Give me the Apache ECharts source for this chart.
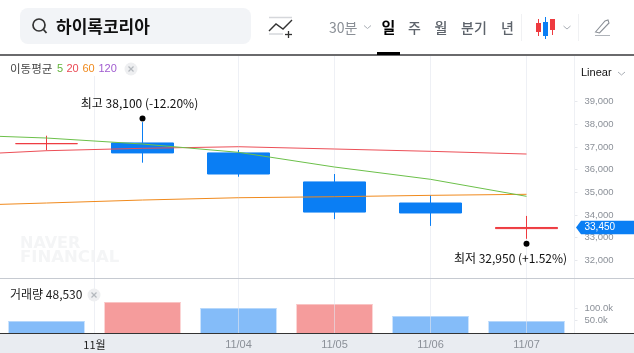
<!DOCTYPE html>
<html lang="ko">
<head>
<meta charset="utf-8" />
<title>하이록코리아</title>
<style>
html, body { margin: 0; padding: 0; background: #fff; }
#chart { width: 634px; height: 353px; }
</style>
</head>
<body>
<div id="chart"></div>
<script src="https://cdn.jsdelivr.net/npm/echarts@6/dist/echarts.min.js"></script>
<script>
// 첫 항목(10/30)은 화면 왼쪽 밖 - 이동평균선이 왼쪽 끝까지 이어지도록
var categories = ['10/30', '10/31', '11/01', '11/04', '11/05', '11/06', '11/07'];
// [시가, 종가, 저가, 고가]
var candles = [
	'-',
	[37150, 37150, 36850, 37500],
	[37180, 36740, 36310, 38100],
	[36740, 35810, 35690, 36870],
	[35460, 34130, 33820, 35810],
	[34530, 34090, 33520, 34870],
	[33400, 33450, 32950, 33960]
];
var ma5 = [37548, 37398, 37133, 36767, 36118, 35576, 34825];
var ma20 = [36630, 36838, 36944, 37014, 36913, 36811, 36692];
var ma60 = [34406, 34530, 34662, 34763, 34808, 34869, 34914];
var volumes = ['-', 48400, 125000, 101000, 117000, 68500, 48530];
var volumeUp = [false, false, true, false, true, false, false];

var priceTicks = [32000, 33000, 34000, 35000, 36000, 37000, 38000, 39000];
var volumeTicks = [50000, 100000];
var lastPrice = 33450;

var guidePositions = [2, 3.5, 4.5, 5.5, 6.5];
var guideLabels = ['11월', '11/04', '11/05', '11/06', '11/07'];

var highPoint = ['11/01', 38100];
var lowPoint = ['11/07', 32950];
var highText = '최고 38,100 (-12.20%)';
var lowText = '최저 32,950 (+1.52%)';

var KR = '"Noto Sans CJK KR", sans-serif';
var LATIN = '"Liberation Sans", Arial, sans-serif';
var BLUE = '#0a7ef4';
var RED = '#ee3a3f';

function label(x, y, text, size, color, opts) {
	opts = opts || {};
	return {
		type: 'text', x: x, y: y, z: 20, silent: true,
		style: {
			text: text, fontSize: size, fill: color,
			fontFamily: opts.font || KR, fontWeight: opts.weight || 'normal',
			align: opts.align || 'left', verticalAlign: 'middle'
		}
	};
}
function seg(x1, y1, x2, y2, color, width, z) {
	return {
		type: 'line', z: z || 20, silent: true,
		shape: { x1: x1, y1: y1, x2: x2, y2: y2 },
		style: { stroke: color, lineWidth: width || 1 }
	};
}
function box(x, y, w, h, color, z, r) {
	return {
		type: 'rect', z: z || 20, silent: true,
		shape: { x: x, y: y, width: w, height: h, r: r || 0 },
		style: { fill: color }
	};
}
function chevron(x, y) {
	return {
		type: 'polyline', z: 20, silent: true,
		shape: { points: [[x - 3.5, y - 1.5], [x, y + 1.5], [x + 3.5, y - 1.5]] },
		style: { stroke: '#a9aeb5', lineWidth: 1, fill: 'none' }
	};
}
function closeBtn(x, y) {
	return [
		{ type: 'circle', z: 20, silent: true, shape: { cx: x, cy: y, r: 6.5 }, style: { fill: '#eeeff1' } },
		seg(x - 2.5, y - 2.5, x + 2.5, y + 2.5, '#b4b8be', 1.2),
		seg(x - 2.5, y + 2.5, x + 2.5, y - 2.5, '#b4b8be', 1.2)
	];
}

var elements = [
	// 상단 검색창
	box(20, 8, 231, 36, '#f2f4f7', 5, 8),
	{ type: 'circle', z: 20, silent: true, shape: { cx: 39, cy: 25, r: 6 }, style: { stroke: '#333', lineWidth: 1.7, fill: 'none' } },
	seg(43.5, 29.5, 46.5, 33, '#333', 1.8),
	label(56, 27, '하이록코리아', 17, '#111', { weight: 'bold' }),
	// 보조지표 아이콘
	seg(269, 17.5, 292, 17.5, '#d5d7db', 1.5),
	seg(269, 34, 283, 34, '#d5d7db', 1.5),
	{ type: 'polyline', z: 20, silent: true, shape: { points: [[269, 31], [276, 24], [283, 29], [292, 20]] }, style: { stroke: '#333', lineWidth: 1.4, fill: 'none' } },
	seg(288.5, 31, 288.5, 38, '#333', 1.3),
	seg(285, 34.5, 292, 34.5, '#333', 1.3),
	// 기간 메뉴
	label(329, 28, '30분', 14, '#8a8f96'),
	chevron(367.5, 27),
	label(388.5, 27.5, '일', 15, '#000', { weight: 'bold', align: 'center' }),
	label(414.5, 27.5, '주', 14, '#5d636b', { weight: 500, align: 'center' }),
	label(441, 27.5, '월', 14, '#5d636b', { weight: 500, align: 'center' }),
	label(474, 27.5, '분기', 14, '#5d636b', { weight: 500, align: 'center' }),
	label(507.5, 27.5, '년', 14, '#5d636b', { weight: 500, align: 'center' }),
	seg(521.5, 14, 521.5, 41, '#f0f1f3', 1),
	seg(578.5, 14, 578.5, 41, '#f0f1f3', 1),
	// 차트 종류 아이콘
	seg(538.5, 19, 538.5, 36, RED, 1),
	box(536, 23, 5, 9, RED),
	seg(545.5, 17, 545.5, 39, BLUE, 1),
	box(543, 22, 5, 14, BLUE),
	seg(552.5, 19, 552.5, 35, RED, 1),
	box(550, 19, 5, 11, RED),
	chevron(567, 27.5),
	// 그리기 아이콘
	{ type: 'polygon', z: 20, silent: true, shape: { points: [[595.5, 32], [605, 21], [608, 20], [609, 23], [599.5, 33]] }, style: { stroke: '#8a8f96', lineWidth: 1.1, fill: 'none' } },
	seg(595, 35.5, 610, 35.5, '#b0b4ba', 1),
	// 구분선
	seg(0, 55, 634, 55, '#38393b', 1.5),
	box(377, 52, 23, 3, '#000'),
	// 이동평균 범례 (뒤 세로선 가림)
	box(0, 56, 142, 20, '#fff', 6),
	label(10, 68.5, '이동평균', 11.5, '#444'),
	label(57, 68.5, '5', 11, '#63b43c', { font: LATIN }),
	label(66.5, 68.5, '20', 11, '#ea4a55', { font: LATIN }),
	label(82.5, 68.5, '60', 11, '#f08a1d', { font: LATIN }),
	label(98.5, 68.5, '120', 11, '#a05bd0', { font: LATIN })
].concat(closeBtn(131, 69)).concat([
	label(581, 73, 'Linear', 11, '#111', { font: LATIN }),
	chevron(621.5, 73.5),
	// 워터마크
	label(20, 243.5, 'NAVER', 16, '#f4f5f6', { font: '"DejaVu Sans", sans-serif', weight: 'bold' }),
	label(20, 257.5, 'FINANCIAL', 16.5, '#f4f5f6', { font: '"DejaVu Sans", sans-serif', weight: 'bold' }),
	// 패널 구분, 하단
	seg(574.5, 56, 574.5, 333, '#eef0f4', 1, 2),
	seg(0, 278.5, 634, 278.5, '#c6cad1', 1, 8),
	label(10, 294.5, '거래량 48,530', 12, '#222')
]).concat(closeBtn(94, 295)).concat([
	seg(0, 333.5, 634, 333.5, '#333', 1, 8),
	box(0, 334, 634, 19, '#e9ecf1', -1)
]);

var chart = echarts.init(document.getElementById('chart'), null, { renderer: 'canvas' });

chart.setOption({
	animation: false,
	backgroundColor: '#fff',
	graphic: { elements: elements },
	grid: [
		{ left: -97.5, width: 672, top: 56.4, height: 226.6, outerBoundsMode: 'none' },
		{ left: -97.5, width: 672, top: 283.4, height: 49.6, outerBoundsMode: 'none' },
		{ left: -97.5, width: 672, top: 56, height: 277, outerBoundsMode: 'none' }
	],
	xAxis: [
		{ type: 'category', gridIndex: 0, data: categories, axisLine: { show: false }, axisTick: { show: false }, axisLabel: { show: false }, splitLine: { show: false } },
		{ type: 'category', gridIndex: 1, data: categories, axisLine: { show: false }, axisTick: { show: false }, axisLabel: { show: false }, splitLine: { show: false } },
		{
			type: 'value', gridIndex: 2, min: 0, max: 7, z: 10,
			axisLine: { show: false }, axisTick: { show: false }, splitLine: { show: false },
			axisLabel: {
				margin: 6, fontSize: 11, fontFamily: LATIN, showMinLabel: true, showMaxLabel: true,
				customValues: guidePositions,
				formatter: function (v) {
					var s = guideLabels[guidePositions.indexOf(v)];
					return v === guidePositions[0] ? '{m|' + s + '}' : '{d|' + s + '}';
				},
				rich: {
					m: { color: '#222', fontSize: 11, fontFamily: KR },
					d: { color: '#8b9098', fontSize: 11, fontFamily: LATIN }
				}
			}
		}
	],
	yAxis: [
		{
			type: 'value', gridIndex: 0, position: 'right', min: 31000, max: 41000, interval: 1000,
			axisLine: { show: false }, splitLine: { show: false },
			axisTick: { show: true, length: 3, customValues: priceTicks, lineStyle: { color: '#e6e8ec' } },
			axisLabel: {
				color: '#8b9098', fontSize: 9.5, fontFamily: LATIN, margin: 10, padding: [3, 0, 0, 0], customValues: priceTicks,
				formatter: function (v) { return echarts.format.addCommas(v); }
			}
		},
		{
			type: 'value', gridIndex: 1, position: 'right', min: 0, max: 200000, interval: 50000,
			axisLine: { show: false }, splitLine: { show: false },
			axisTick: { show: true, length: 3, customValues: volumeTicks, lineStyle: { color: '#e6e8ec' } },
			axisLabel: {
				color: '#8b9098', fontSize: 9.5, fontFamily: LATIN, margin: 10, padding: [3, 0, 0, 0], customValues: volumeTicks,
				formatter: function (v) { return (v / 1000).toFixed(1) + 'k'; }
			}
		},
		{ type: 'value', gridIndex: 2, min: 0, max: 1, show: false }
	],
	series: [
		{
			// 거래량 막대 - 윗변만 밝은 색
			type: 'custom', xAxisIndex: 1, yAxisIndex: 1, z: 1, silent: true,
			data: volumes.map(function (v, i) { return [i, v]; }),
			encode: { x: 0, y: 1 },
			renderItem: function (params, api) {
				var i = api.value(0), top = api.coord([i, api.value(1)]), base = api.coord([i, 0]);
				var w = api.size([1, 0])[0] * 0.79;
				var up = volumeUp[i];
				return {
					type: 'group',
					children: [
						{ type: 'rect', shape: { x: top[0] - w / 2, y: top[1], width: w, height: base[1] - top[1] }, style: { fill: up ? '#f59c9c' : '#84bcf9' } },
						{ type: 'rect', shape: { x: top[0] - w / 2, y: top[1], width: w, height: 1 }, style: { fill: up ? '#f9c4c4' : '#b5d7fb' } }
					]
				};
			}
		},
		{
			// 세로 기준선
			type: 'custom', xAxisIndex: 2, yAxisIndex: 2, z: 2, silent: true,
			data: guidePositions.map(function (v) { return [v]; }),
			encode: { x: 0 },
			renderItem: function (params, api) {
				var a = api.coord([api.value(0), 0]), b = api.coord([api.value(0), 1]);
				return { type: 'line', shape: { x1: Math.floor(a[0]) + 0.5, y1: a[1], x2: Math.floor(a[0]) + 0.5, y2: b[1] }, style: { stroke: 'rgba(226,230,238,0.6)', lineWidth: 1 } };
			}
		},
		{
			type: 'candlestick', xAxisIndex: 0, yAxisIndex: 0, z: 4, barWidth: 63,
			data: candles,
			itemStyle: { color: RED, color0: BLUE, borderColor: RED, borderColor0: BLUE, borderColorDoji: RED, borderWidth: 1 }
		},
		{ type: 'line', xAxisIndex: 0, yAxisIndex: 0, z: 5, data: ma60, showSymbol: false, lineStyle: { color: '#f08a1d', width: 1 } },
		{ type: 'line', xAxisIndex: 0, yAxisIndex: 0, z: 5, data: ma20, showSymbol: false, lineStyle: { color: '#ec4f57', width: 1 } },
		{ type: 'line', xAxisIndex: 0, yAxisIndex: 0, z: 5, data: ma5, showSymbol: false, lineStyle: { color: '#6cc04a', width: 1 } },
		{
			type: 'scatter', xAxisIndex: 0, yAxisIndex: 0, z: 7, symbolSize: 6, symbolOffset: [0, -3.5],
			itemStyle: { color: '#000', opacity: 1 },
			data: [{
				value: highPoint,
				label: { show: true, formatter: highText, position: 'top', offset: [-3, -1], color: '#111', fontSize: 12, fontFamily: KR }
			}]
		},
		{
			type: 'scatter', xAxisIndex: 0, yAxisIndex: 0, z: 7, symbolSize: 6, symbolOffset: [0, 5],
			itemStyle: { color: '#000', opacity: 1 },
			data: [{
				value: lowPoint,
				label: { show: true, formatter: lowText, position: 'bottom', offset: [-16, 1], color: '#111', fontSize: 12, fontFamily: KR }
			}]
		}
	]
});

// 현재가 태그
var tagY = chart.convertToPixel({ yAxisIndex: 0 }, lastPrice);
chart.setOption({
	graphic: {
		elements: elements.concat([
			{
				type: 'polygon', z: 19, silent: true,
				shape: { points: [[576, tagY], [581, tagY - 6.8], [634, tagY - 6.8], [634, tagY + 6.8], [581, tagY + 6.8]] },
				style: { fill: BLUE }
			},
			label(584.5, tagY, echarts.format.addCommas(lastPrice), 10, '#fff', { font: LATIN })
		])
	}
});
</script>
</body>
</html>
